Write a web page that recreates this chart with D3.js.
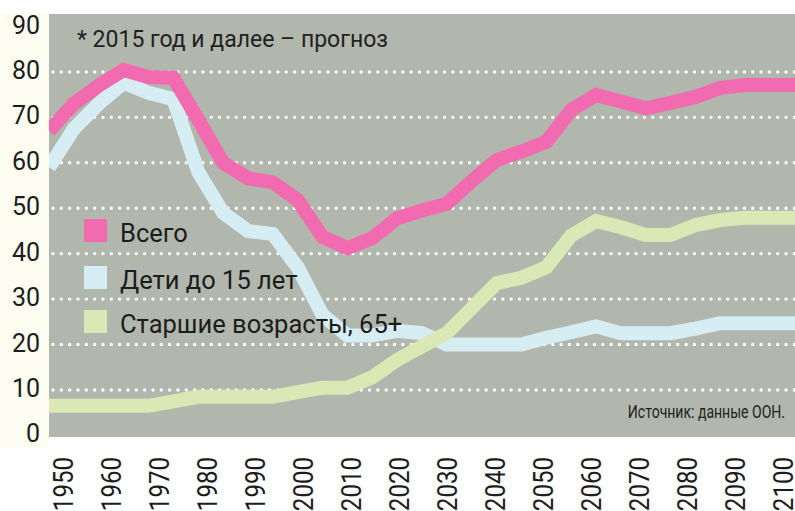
<!DOCTYPE html>
<html>
<head>
<meta charset="utf-8">
<script src="https://cdn.jsdelivr.net/npm/d3@7"></script>
<style>
  body { margin: 0; background: #fff; }
  svg { display: block; }
  .y-label { font-family: Roboto, sans-serif; font-size: 25px; fill: #1c1c1c; }
  .x-label { font-family: Roboto, sans-serif; font-size: 28px; fill: #1c1c1c; }
  .legend-text { font-family: Roboto, sans-serif; font-size: 25.5px; fill: #1c1c1c; }
  .note { font-family: Roboto, sans-serif; font-size: 23px; fill: #222; }
  .source { font-family: Roboto, sans-serif; font-size: 18px; fill: #222; }
</style>
</head>
<body>
<div id="chart"></div>
<script>
// data (population share, %)
const years = [1950, 1955, 1960, 1965, 1970, 1975, 1980, 1985, 1990, 1995, 2000, 2005, 2010, 2015, 2020,
  2025, 2030, 2035, 2040, 2045, 2050, 2055, 2060, 2065, 2070, 2075, 2080, 2085, 2090, 2095, 2100];
const total = [67, 73, 77, 80.4, 78.9, 78.7, 69.5, 60, 56.6, 55.7, 51.8, 43.7, 41.2, 43.4, 47.8,
  49.5, 51, 56, 60.6, 62.5, 64.6, 71.6, 74.9, 73.5, 72, 73.2, 74.5, 76.5, 77.1, 77.1, 77.1];
const children = [59, 67.5, 73, 77.6, 75.4, 74, 58, 49, 45, 44.3, 37, 26.5, 22, 22, 23,
  22.5, 20, 20, 20, 20, 21.5, 22.7, 24, 22.5, 22.5, 22.5, 23.5, 24.7, 24.7, 24.7, 24.7];
const elderly = [6.5, 6.5, 6.5, 6.5, 6.5, 7.5, 8.5, 8.5, 8.5, 8.5, 9.5, 10.5, 10.5, 12.8, 16.6,
  19.6, 22.5, 28, 33.5, 34.7, 37, 44, 47.2, 45.8, 44.1, 44.1, 46.3, 47.4, 47.9, 47.9, 47.9];

const seriesNames = ["Всего", "Дети до 15 лет", "Старшие возрасты, 65+"];
const seriesColors = ["#f26bb0", "#d5edf3", "#d9e8b5"];
const yTicks = [0, 10, 20, 30, 40, 50, 60, 70, 80, 90];
const gridTicks = [10, 20, 30, 40, 50, 60, 70, 80];
const xTickLabels = ["1950", "1960", "1970", "1980", "1990", "2000", "2010", "2020",
  "2030", "2040", "2050", "2060", "2070", "2080", "2090", "2100"];
const noteText = "* 2015 год и далее – прогноз";
const sourceText = "Источник: данные ООН.";

const width = 795, height = 511;
const plot = {left: 49, right: 795, top: 14, bottom: 437};

const svg = d3.select("#chart").append("svg")
  .attr("width", width)
  .attr("height", height);

const x = d3.scaleLinear().domain([1950, 2100]).range([plot.left, plot.right]);
const y = d3.scaleLinear().domain([0, 90]).range([435.4, 26.5]);
const xLab = d3.scalePoint().domain(xTickLabels).range([63, 783]);

// backgrounds
svg.append("rect")
  .attr("x", 0).attr("y", plot.top)
  .attr("width", plot.left).attr("height", 448 - plot.top)
  .attr("fill", "#fdfdf1");
svg.append("rect")
  .attr("x", plot.left).attr("y", plot.top)
  .attr("width", plot.right - plot.left).attr("height", plot.bottom - plot.top)
  .attr("fill", "#b1b7ac");

svg.append("clipPath").attr("id", "plot-clip")
  .append("rect")
  .attr("x", plot.left).attr("y", plot.top)
  .attr("width", plot.right - plot.left).attr("height", plot.bottom - plot.top);

// dotted grid
svg.append("g")
  .selectAll("line")
  .data(gridTicks)
  .join("line")
  .attr("x1", 53).attr("x2", plot.right)
  .attr("y1", d => y(d)).attr("y2", d => y(d))
  .attr("stroke", "#fff")
  .attr("stroke-width", 3.4)
  .attr("stroke-linecap", "round")
  .attr("stroke-dasharray", "0 8.33");

// y labels
svg.append("g")
  .selectAll("text")
  .data(yTicks)
  .join("text")
  .attr("class", "y-label")
  .attr("x", 40)
  .attr("y", d => y(d) + 7)
  .attr("text-anchor", "end")
  .text(d => d);

// x labels, rotated and squeezed (condensed face in the original)
svg.append("g")
  .selectAll("text")
  .data(xTickLabels)
  .join("text")
  .attr("class", "x-label")
  .attr("transform", d => `translate(${xLab(d) + 10},457) rotate(-90) scale(0.86,1)`)
  .attr("text-anchor", "end")
  .text(d => d);

// lines
const line = d3.line()
  .x((d, i) => x(years[i]))
  .y(d => y(d));

const series = [children, elderly, total];
const seriesColorOrder = [seriesColors[1], seriesColors[2], seriesColors[0]];

svg.append("g")
  .attr("clip-path", "url(#plot-clip)")
  .selectAll("path")
  .data(series)
  .join("path")
  .attr("d", line)
  .attr("fill", "none")
  .attr("stroke", (d, i) => seriesColorOrder[i])
  .attr("stroke-width", 14)
  .attr("stroke-linejoin", "miter")
  .attr("stroke-linecap", "butt");

// legend
const legendY = [230.5, 277.5, 321.5];
const legend = svg.append("g");
legend.selectAll("rect")
  .data(seriesNames)
  .join("rect")
  .attr("x", 84)
  .attr("y", (d, i) => legendY[i] - 11.5)
  .attr("width", 23)
  .attr("height", 23)
  .attr("fill", (d, i) => seriesColors[i]);
legend.selectAll("text")
  .data(seriesNames)
  .join("text")
  .attr("class", "legend-text")
  .attr("x", 120)
  .attr("y", (d, i) => legendY[i] + 11)
  .text(d => d);

// notes
svg.append("text")
  .attr("class", "note")
  .attr("x", 77)
  .attr("y", 47)
  .text(noteText);

svg.append("text")
  .attr("class", "source")
  .attr("transform", "translate(785,418) scale(0.78,1)")
  .attr("text-anchor", "end")
  .text(sourceText);
</script>
</body>
</html>
